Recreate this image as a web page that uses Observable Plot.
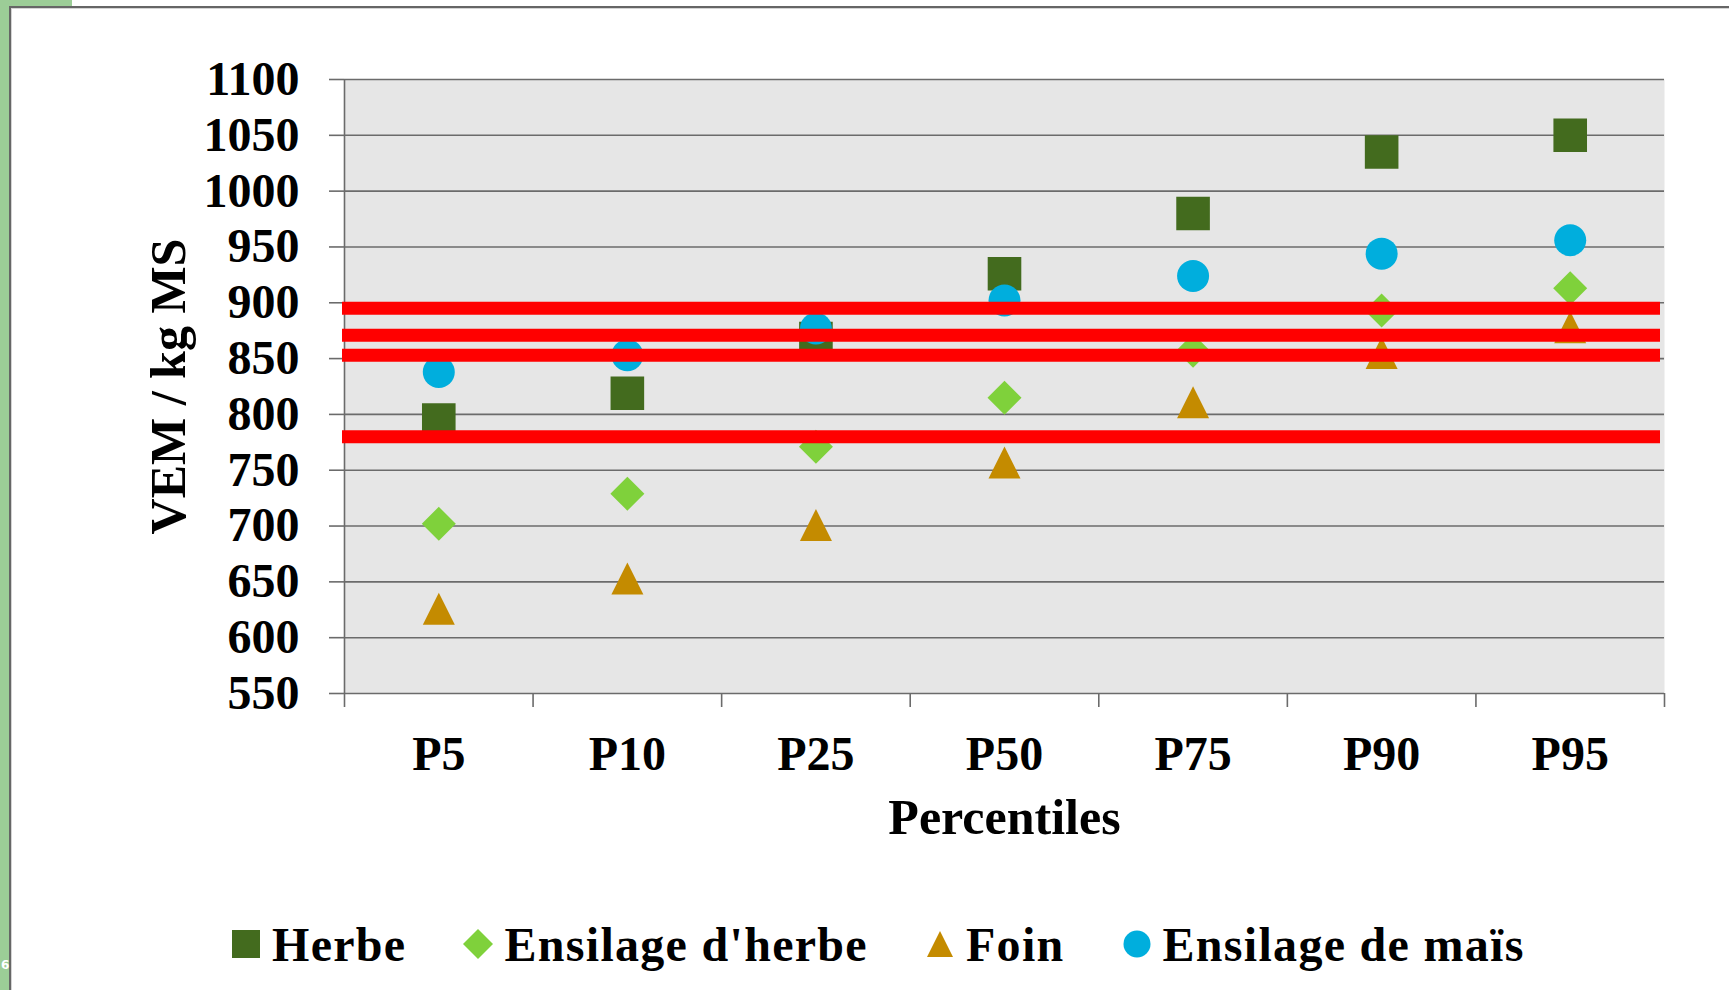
<!DOCTYPE html>
<html>
<head>
<meta charset="utf-8">
<script src="https://cdn.jsdelivr.net/npm/d3@7"></script>
<script src="https://cdn.jsdelivr.net/npm/@observablehq/plot@0.6"></script>
<style>
  html, body { margin: 0; padding: 0; background: #ffffff; }
  #page { position: relative; width: 1729px; height: 990px; overflow: hidden; background: #ffffff; }
  #greenStrip { position: absolute; left: 0; top: 0; width: 9px; height: 990px; background: #9ccd97; }
  #greenTop { position: absolute; left: 0; top: 0; width: 72px; height: 7px; background: #9ccd97; }
  #border { position: absolute; left: 9px; top: 6px; width: 1740px; height: 1000px;
            border-left: 2px solid #666666; border-top: 2px solid #666666; box-shadow: inset 1px 1px 0 #d4d4d4; }
  #slideNum { position: absolute; left: 1px; top: 958px; font: bold 12px "DejaVu Sans", sans-serif; color: #ffffff; }
  #chart { position: absolute; left: 0; top: 0; }
  #legend { position: absolute; left: 231px; top: 908px; height: 72px; display: flex; align-items: center;
            font-family: "Liberation Serif", serif; font-weight: bold; font-size: 48px; letter-spacing: 1.3px; color: #000; white-space: nowrap; }
  .item { display: flex; align-items: center; margin-right: 57px; }
  .item svg { margin-right: 11px; }
</style>
</head>
<body>
<div id="page">
  <div id="greenStrip"></div>
  <div id="greenTop"></div>
  <div id="border"></div>
  <div id="slideNum">6</div>
  <div id="chart"></div>
  <div id="legend"></div>
</div>
<script>
// ---- data ----
const categories = ["P5", "P10", "P25", "P50", "P75", "P90", "P95"];
const herbe = [795, 819, 868, 926, 980, 1035, 1050];
const ensilageHerbe = [702, 729, 771, 815, 857, 893, 913];
const foin = [626, 653, 701, 757, 811, 855, 878];
const ensilageMais = [838, 853, 877, 902, 924, 944, 956];
const seuils = [895, 871, 853, 780];
const yTicks = [550, 600, 650, 700, 750, 800, 850, 900, 950, 1000, 1050, 1100];
const seriesNames = ["Herbe", "Ensilage d'herbe", "Foin", "Ensilage de maïs"];
const seriesColors = ["#436b1e", "#7fd13b", "#c48b00", "#00aedd"];
const yLabel = "VEM / kg MS";
const xLabel = "Percentiles";

// ---- custom symbols (half-extent = r) ----
const half = (size) => Math.sqrt(size / Math.PI);
const symSquare = {draw(ctx, size) { const h = half(size); ctx.rect(-h, -h, 2 * h, 2 * h); }};
const symDiamond = {draw(ctx, size) { const h = half(size); ctx.moveTo(0, -h); ctx.lineTo(h, 0); ctx.lineTo(0, h); ctx.lineTo(-h, 0); ctx.closePath(); }};
const symTriangle = {draw(ctx, size) { const h = half(size); ctx.moveTo(0, -h); ctx.lineTo(h, h); ctx.lineTo(-h, h); ctx.closePath(); }};
const symCircle = {draw(ctx, size) { const h = half(size); ctx.moveTo(h, 0); ctx.arc(0, 0, h, 0, 2 * Math.PI); }};
const symbols = [symSquare, symDiamond, symTriangle, symCircle];
const radii = [16.8, 17, 16, 16];
const seriesValues = [herbe, ensilageHerbe, foin, ensilageMais];

const idx = categories.map((_, i) => i);
const boundaries = d3.range(categories.length + 1).map(i => i - 0.5);
const grid = "#6b6b6b";

const dotMarks = seriesValues.map((vals, s) =>
  Plot.dot(vals, {x: (_, i) => i, y: d => d, symbol: symbols[s], r: radii[s], fill: seriesColors[s], stroke: "none"})
);

const chart = Plot.plot({
  width: 1729,
  height: 880,
  marginLeft: 344,
  marginRight: 65,
  marginTop: 79,
  marginBottom: 187,
  style: {fontFamily: "Liberation Serif", fontWeight: "bold", fontSize: "48px", background: "transparent", color: "#000", overflow: "visible"},
  x: {type: "linear", domain: [-0.5, categories.length - 0.5]},
  y: {domain: [550, 1100]},
  marks: [
    Plot.frame({fill: "#e6e6e6", stroke: "none"}),
    Plot.gridY(yTicks, {stroke: grid, strokeOpacity: 1, strokeWidth: 1.6}),
    Plot.ruleX(boundaries.slice(0, 1), {stroke: grid, strokeWidth: 1.6}),
    Plot.axisY(yTicks, {tickSize: 15, tickPadding: 30, stroke: grid, strokeWidth: 1.6, label: null, tickFormat: d => String(d)}),
    Plot.axisX(boundaries, {tickSize: 14, stroke: grid, strokeWidth: 1.6, tickFormat: () => "", label: null}),
    Plot.axisX(idx, {tickSize: 0, tickPadding: 42, tickFormat: i => categories[i], label: null}),
    ...dotMarks,
    Plot.ruleY(seuils, {stroke: "#ff0000", strokeWidth: 13, insetLeft: -2, insetRight: 4}),
    Plot.text([yLabel], {frameAnchor: "left", rotate: -90, textAnchor: "middle", lineAnchor: "middle", dx: -176, fontSize: 50}),
    Plot.text([xLabel], {frameAnchor: "bottom", textAnchor: "middle", lineAnchor: "bottom", dy: 140, fontSize: 50})
  ]
});
document.getElementById("chart").appendChild(chart);

// ---- legend ----
const legend = d3.select("#legend");
seriesNames.forEach((name, s) => {
  const item = legend.append("div").attr("class", "item");
  const sz = 30;
  const svg = item.append("svg").attr("width", sz).attr("height", sz).attr("viewBox", `${-sz/2} ${-sz/2} ${sz} ${sz}`);
  const path = d3.path();
  const r = [14, 15, 13, 13.5][s];
  symbols[s].draw(path, r * r * Math.PI);
  svg.append("path").attr("d", path.toString()).attr("fill", seriesColors[s]);
  item.append("span").text(name);
});
</script>
</body>
</html>
